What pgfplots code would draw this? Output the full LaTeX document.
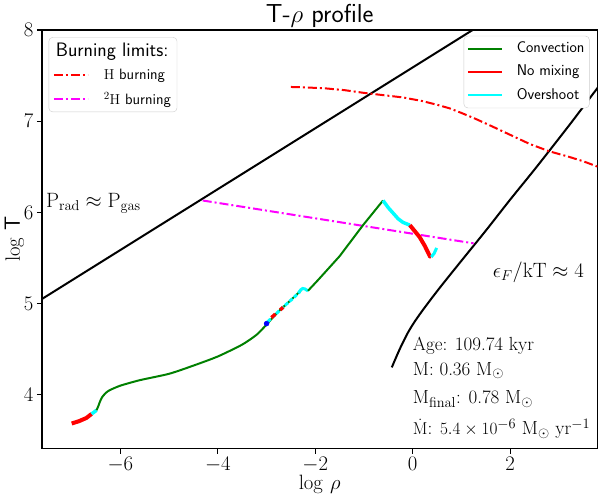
\documentclass[border=0pt]{standalone}
\usepackage{pgfplots}
\pgfplotsset{compat=1.18}
\definecolor{mplgreen}{rgb}{0,0.5,0}
\definecolor{mplcyan}{rgb}{0,1,1}
\definecolor{mplmagenta}{rgb}{1,0,1}
\definecolor{mplred}{rgb}{1,0,0}
\definecolor{mplblue}{rgb}{0,0,1}
\begin{document}
\begin{tikzpicture}
\begin{axis}[
  name=ax,
  scale only axis, width=556pt, height=419pt,
  xmin=-7.61, xmax=3.79, ymin=3.41, ymax=8,
  xtick={-6,-4,-2,0,2}, ytick={4,5,6,7,8},
  tick align=outside, tick pos=left,
  major tick length=5pt,
  every tick/.style={black, line width=1.1pt},
  axis line style={line width=1.1pt},
  ticklabel style={font=\fontsize{20}{24}\selectfont},
  xlabel={$\log\,\rho$}, ylabel={$\log$ \textsf{T}},
  label style={font=\fontsize{22}{26}\selectfont},
  xlabel style={at={(axis description cs:0.5,-0.098)}, anchor=base},
  ylabel style={at={(axis description cs:-0.05,0.5)}, anchor=center},
  clip mode=individual,
  legend style={at={(0.012,0.983)}, anchor=north west, draw=black!20, rounded corners=4pt,
    font=\fontsize{15}{18}\selectfont\sffamily, cells={anchor=west}, row sep=7pt, inner sep=4pt},
  legend image code/.code={\draw[#1] (0pt,0pt) -- (34pt,0pt); \path (47pt,0pt);},
]
% legend entries
\addlegendimage{empty legend}
\addlegendentry{\hspace*{-48pt}\fontsize{19.5}{22}\selectfont Burning limits:}
\addlegendimage{mplred, line width=2pt, dash pattern=on 9pt off 3pt on 2pt off 3pt}
\addlegendentry{$\mathrm{H}$ burning}
\addlegendimage{mplmagenta, line width=2pt, dash pattern=on 9pt off 3pt on 2pt off 3pt}
\addlegendentry{$^{2}\mathrm{H}$ burning}

% P_rad = P_gas line
\addplot[black, line width=2pt, forget plot] coordinates {(-8.0,4.92) (1.5,8.09)};
% degeneracy line
\addplot[black, line width=2pt, smooth, tension=0.5, forget plot] coordinates {
(-0.43,4.30) (-0.35,4.40) (-0.25,4.52) (-0.10,4.68) (0.05,4.81) (0.25,4.96) (0.55,5.17)
(1.00,5.47) (1.50,5.80) (2.00,6.14) (2.50,6.47) (3.00,6.81) (3.29,7.01) (3.80,7.37)};
% H burning
\addplot[mplred, line width=2pt, dash pattern=on 9pt off 3pt on 2pt off 3pt, forget plot] coordinates {
(-2.50,7.375) (-2.2,7.37) (-1.8,7.36) (-1.4,7.34) (-1.0,7.31) (-0.6,7.285) (-0.2,7.26)
(0.2,7.22) (0.5,7.18) (0.76,7.14) (1.0,7.09) (1.27,7.03) (1.6,6.95) (2.0,6.85) (2.4,6.75)
(2.8,6.67) (3.2,6.61) (3.5,6.56) (3.8,6.50)};
% 2H burning
\addplot[mplmagenta, line width=2pt, dash pattern=on 9pt off 3pt on 2pt off 3pt, forget plot] coordinates {
(-4.31,6.13) (1.25,5.66)};

% profile
\addplot[mplred, line width=4pt, forget plot] coordinates {(-7.00,3.685) (-6.85,3.71) (-6.70,3.745) (-6.59,3.79)};
\addplot[mplcyan, line width=3.5pt, forget plot] coordinates {(-6.59,3.79) (-6.49,3.83)};
\addplot[mplgreen, line width=2pt, smooth, tension=0.4, forget plot] coordinates {
(-6.49,3.83) (-6.45,3.88) (-6.43,3.91) (-6.38,3.97) (-6.30,4.02) (-6.22,4.05) (-6.00,4.10)
(-5.60,4.16) (-5.00,4.23) (-4.50,4.32) (-4.00,4.42) (-3.50,4.55) (-3.20,4.66) (-3.00,4.77)
(-2.80,4.89) (-2.60,4.99) (-2.40,5.09) (-2.30,5.14)};
\addplot[mplcyan, line width=3pt, dash pattern=on 4pt off 2pt, forget plot] coordinates {
(-2.98,4.80) (-2.60,4.99) (-2.45,5.06) (-2.32,5.13)};
\addplot[mplred, line width=3.5pt, forget plot] coordinates {(-2.90,4.845) (-2.82,4.885)};
\addplot[mplred, line width=3.5pt, forget plot] coordinates {(-2.72,4.93) (-2.66,4.96)};
\addplot[mplcyan, line width=3pt, forget plot] coordinates {
(-2.34,5.12) (-2.30,5.15) (-2.26,5.165) (-2.21,5.16) (-2.17,5.145) (-2.15,5.14)};
\addplot[mplgreen, line width=2pt, forget plot] coordinates {
(-2.15,5.14) (-1.94,5.26) (-1.50,5.52) (-1.02,5.86) (-0.61,6.13)};
\addplot[mplcyan, line width=3.5pt, forget plot] coordinates {
(-0.61,6.13) (-0.50,6.05) (-0.40,5.99) (-0.30,5.93) (-0.20,5.89) (-0.06,5.86)};
\addplot[mplred, line width=4pt, forget plot] coordinates {
(-0.06,5.86) (0.14,5.73) (0.25,5.63) (0.35,5.52) (0.38,5.51)};
\addplot[mplcyan, line width=3pt, forget plot] coordinates {(0.38,5.51) (0.44,5.55) (0.49,5.61)};
\addplot[only marks, mark=*, mplblue, mark size=2.5pt, forget plot] coordinates {(-3.0,4.78)};

% title
\node[anchor=base, font=\fontsize{26}{30}\selectfont\sffamily, inner sep=0pt] at (axis description cs:0.5,1.0167) {T-$\rho$ profile};
% annotations
\node[anchor=base west, font=\fontsize{20}{24}\selectfont, inner sep=0pt] at (axis cs:-7.53,6.05) {$\mathrm{P_{rad}}\approx\mathrm{P_{gas}}$};
\node[anchor=base west, font=\fontsize{20.5}{24}\selectfont, inner sep=0pt] at (axis cs:1.64,5.29) {$\epsilon_F/\mathrm{kT}\approx 4$};
\node[anchor=base west, font=\fontsize{19}{22}\selectfont, inner sep=0pt] at (axis cs:0.0,4.49) {Age: 109.74 kyr};
\node[anchor=base west, font=\fontsize{19}{22}\selectfont, inner sep=0pt] at (axis cs:0.0,4.215) {M: 0.36 M$_\odot$};
\node[anchor=base west, font=\fontsize{19}{22}\selectfont, inner sep=0pt] at (axis cs:0.0,3.905) {M$_{\mathrm{final}}$: 0.78 M$_\odot$};
\node[anchor=base west, font=\fontsize{19}{22}\selectfont, inner sep=0pt] at (axis cs:0.0,3.56) {$\dot{\mathrm{M}}$: $5.4\times10^{-6}$ M$_\odot$ yr$^{-1}$};
\end{axis}
\begin{axis}[
  scale only axis, width=556pt, height=419pt,
  xmin=-7.61, xmax=3.79, ymin=3.41, ymax=8,
  hide axis,
  legend style={at={(0.986,0.986)}, anchor=north east, draw=black!20, rounded corners=4pt,
    font=\fontsize{15.6}{18}\selectfont\sffamily, cells={anchor=west}, row sep=4.5pt, inner sep=3pt,
    nodes={text height=11.5pt, text depth=3.5pt}},
  legend image code/.code={\draw[#1] (0pt,0pt) -- (34pt,0pt); \path (46pt,0pt);},
]
\addlegendimage{mplgreen, line width=2pt}
\addlegendentry{Convection}
\addlegendimage{mplred, line width=2pt}
\addlegendentry{No mixing}
\addlegendimage{mplcyan, line width=2pt}
\addlegendentry{Overshoot}
\end{axis}
\pgfresetboundingbox
\path ([shift={(-42pt,-47pt)}]ax.south west) rectangle ([shift={(0.6pt,30pt)}]ax.north east);
\end{tikzpicture}
\end{document}
